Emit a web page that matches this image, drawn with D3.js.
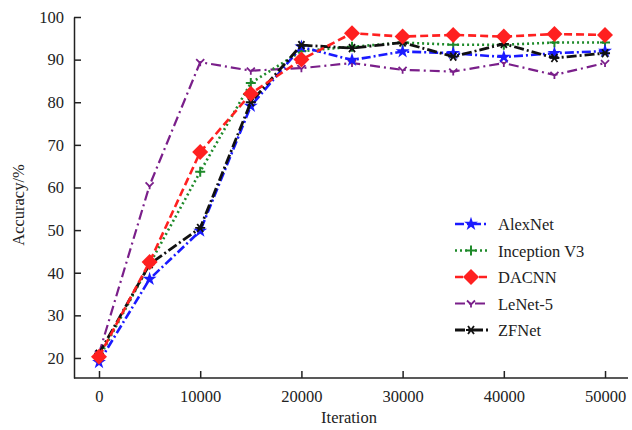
<!DOCTYPE html>
<html>
<head>
<meta charset="utf-8">
<script src="https://cdn.jsdelivr.net/npm/d3@7"></script>
<style>
  body { margin: 0; background: #fff; }
  text { font-family: "Liberation Serif", "DejaVu Serif", serif; }
</style>
</head>
<body>
<div id="chart"></div>
<script>
// data
let iterations = [0, 5000, 10000, 15000, 20000, 25000, 30000, 35000, 40000, 45000, 50000]
let alexNet   = [19, 38.5, 49.8, 79.1, 93, 89.9, 91.9, 91.5, 90.6, 91.5, 92]
let inception = [20, 42, 63.7, 84.5, 92, 93, 94, 93.5, 93.5, 94, 94]
let dacnn     = [20.3, 42.5, 68.3, 82, 90, 96.2, 95.4, 95.8, 95.4, 96, 95.8]
let lenet     = [21, 60.5, 89.4, 87.4, 88, 89.2, 87.6, 87.2, 89.2, 86.4, 89.2]
let zfnet     = [21, 42, 50.5, 80, 93.4, 92.7, 94, 90.7, 93.7, 90.4, 91.5]
let seriesNames = ["AlexNet", "Inception V3", "DACNN", "LeNet-5", "ZFNet"]
let xTicks = [0, 10000, 20000, 30000, 40000, 50000]
let yTicks = [20, 30, 40, 50, 60, 70, 80, 90, 100]

let svgWidth = 632
let svgHeight = 430
let margin = { top: 17, right: 4, bottom: 52, left: 74 }
let width = svgWidth - margin.left - margin.right
let height = svgHeight - margin.top - margin.bottom

let svg = d3.select("#chart").append("svg")
  .attr("width", svgWidth).attr("height", svgHeight)

let g = svg.append("g").attr("transform", `translate(${margin.left},${margin.top})`)

let x = d3.scaleLinear().domain([-2470, 52270]).range([0, width])
let y = d3.scaleLinear().domain([15.3, 100]).range([height, 0])

// axes, ticks point inward
let xAxis = g.append("g").attr("transform", `translate(0,${height})`)
  .call(d3.axisBottom(x).tickValues(xTicks).tickFormat(d3.format("d"))
    .tickSize(-7).tickPadding(12).tickSizeOuter(0))
let yAxis = g.append("g")
  .call(d3.axisLeft(y).tickValues(yTicks).tickSize(-7).tickPadding(10).tickSizeOuter(0))
;[xAxis, yAxis].forEach(a => {
  a.selectAll("path, line").attr("stroke", "#222").attr("stroke-width", 1.5)
  a.selectAll("text").attr("font-size", 16.5).attr("fill", "#222")
    .style("font-family", "'Liberation Serif', serif")
})
xAxis.select("path").attr("d", `M0,0H${width}`)

svg.append("text").attr("x", margin.left + x(25000) - 3).attr("y", 423)
  .attr("text-anchor", "middle").attr("font-size", 16.5).attr("fill", "#222").text("Iteration")
svg.append("text").attr("transform", "translate(24,205) rotate(-90)")
  .attr("text-anchor", "middle").attr("font-size", 16.5).attr("fill", "#222").text("Accuracy/%")

let styles = [
  { values: alexNet, color: "#1a1aff", dash: "9,3,2,3", w: 2.6, marker: "star" },
  { values: inception, color: "#1e8a2a", dash: "2,3", w: 2.6, marker: "plus" },
  { values: dacnn, color: "#ff2020", dash: "8,4", w: 2.6, marker: "diamond" },
  { values: lenet, color: "#7a1f8a", dash: "10,4,2,4", w: 2.2, marker: "tri" },
  { values: zfnet, color: "#111", dash: "10,3,2,3", w: 2.8, marker: "ast" }
]

let line = d3.line().x(d => x(d[0])).y(d => y(d[1]))

function drawMarker(sel, kind, color) {
  if (kind === "star") {
    sel.append("path").attr("d", d3.symbol(d3.symbolStar, 60)()).attr("fill", color)
  } else if (kind === "diamond") {
    sel.append("path").attr("d", "M0,-8L8,0L0,8L-8,0Z").attr("fill", color)
  } else if (kind === "plus") {
    sel.append("path").attr("d", "M-5,0H5M0,-5V5").attr("stroke", color).attr("stroke-width", 2)
  } else if (kind === "tri") {
    sel.append("path").attr("d", "M-4,-3L0,1L4,-3M0,1V4").attr("stroke", color)
      .attr("stroke-width", 1.8).attr("fill", "none")
  } else {
    sel.append("path").attr("d", "M-5,0H5M-3,-4L3,4M3,-4L-3,4").attr("stroke", color)
      .attr("stroke-width", 1.8)
  }
}

// draw LeNet first so it sits underneath
let order = [3, 1, 0, 4, 2]
order.forEach(i => {
  let s = styles[i]
  let pts = iterations.map((it, k) => [it, s.values[k]])
  g.append("path").datum(pts).attr("d", line)
    .attr("fill", "none").attr("stroke", s.color).attr("stroke-width", s.w)
    .attr("stroke-dasharray", s.dash)
  pts.forEach(p => {
    let m = g.append("g").attr("transform", `translate(${x(p[0])},${y(p[1])})`)
    drawMarker(m, s.marker, s.color)
  })
})

// legend
let legend = svg.append("g").attr("transform", "translate(455,224)")
seriesNames.forEach((name, i) => {
  let s = styles[i]
  let row = legend.append("g").attr("transform", `translate(0,${i * 26.5})`)
  row.append("line").attr("x1", 0).attr("x2", 33).attr("y1", 0).attr("y2", 0)
    .attr("stroke", s.color).attr("stroke-width", s.w).attr("stroke-dasharray", s.dash)
  let m = row.append("g").attr("transform", "translate(16,0)")
  drawMarker(m, s.marker, s.color)
  row.append("text").attr("x", 43).attr("y", 6).attr("font-size", 16.5).attr("fill", "#222").text(name)
})
</script>
</body>
</html>
